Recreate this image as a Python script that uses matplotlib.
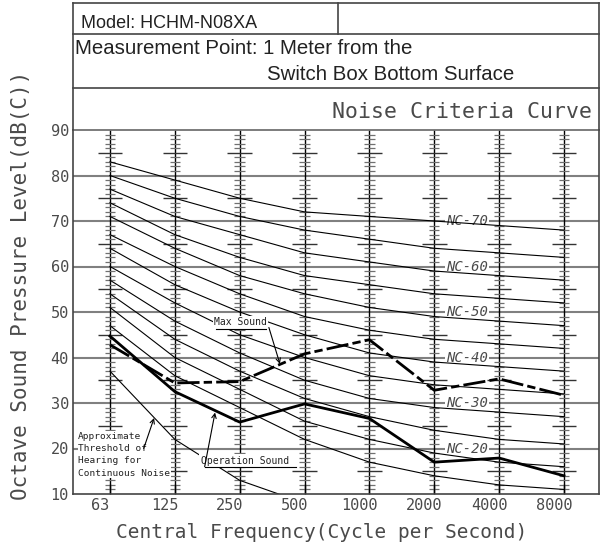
import matplotlib.pyplot as plt
import matplotlib.transforms as mtransforms
from matplotlib.lines import Line2D
import numpy as np

# frequency bands (octave centres)
freq_labels = ['63', '125', '250', '500', '1000', '2000', '4000', '8000']
band_x = np.arange(len(freq_labels))

# NC reference curves (dB per band)
nc_levels = [15, 20, 25, 30, 35, 40, 45, 50, 55, 60, 65, 70]
nc_values = [
    [47, 36, 29, 22, 17, 14, 12, 11],
    [51, 40, 33, 26, 22, 19, 17, 16],
    [54, 44, 37, 31, 27, 24, 22, 21],
    [57, 48, 41, 35, 31, 29, 28, 27],
    [60, 52, 45, 40, 36, 34, 33, 32],
    [64, 56, 50, 45, 41, 39, 38, 37],
    [67, 60, 54, 49, 46, 44, 43, 42],
    [71, 64, 58, 54, 51, 49, 48, 47],
    [74, 67, 62, 58, 56, 54, 53, 52],
    [77, 71, 67, 63, 61, 59, 58, 57],
    [80, 75, 71, 68, 66, 64, 63, 62],
    [83, 79, 75, 72, 71, 70, 69, 68],
]
nc_labelled = [20, 30, 40, 50, 60, 70]

# approximate threshold of hearing (first four bands)
threshold = [37, 22, 13, 8]

# measured data
max_sound = [42.8, 34.4, 34.7, 40.8, 43.9, 32.8, 35.3, 31.7]
operation_sound = [44.7, 32.5, 25.8, 29.8, 26.6, 17.0, 17.9, 14.0]

MONO = 'DejaVu Sans Mono'
TXT = '#4a4a4a'

W, H = 603, 559
fx = lambda px: px / W
fy = lambda py: 1 - py / H

fig = plt.figure(figsize=(W / 100, H / 100), dpi=100)
ax = fig.add_axes([fx(73), fy(494), (599 - 73) / W, (494 - 130) / H])
ax.set_xlim(-0.57, 7.54)
ax.set_ylim(10, 90)

# horizontal 10 dB lines
ax.hlines(np.arange(20, 90, 10), -0.57, 7.54, color='#808080', lw=1.5, zorder=1)

# band ladders
minor = [v for v in range(11, 90) if v % 10 != 0]
for i in band_x:
    ax.vlines(i, 10, 90, color='black', lw=1.0, zorder=1.5)
    short = [v for v in minor if v % 5 != 0]
    longer = [v for v in minor if v % 5 == 0]
    ax.hlines(short, i - 0.08, i + 0.08, color='#707070', lw=0.9, zorder=1.5)
    ax.hlines(longer, i - 0.19, i + 0.19, color='#333333', lw=1.0, zorder=1.5)

# NC curves
for lvl, vals in zip(nc_levels, nc_values):
    ax.plot(band_x, vals, color='black', lw=0.8, zorder=2.5)
for lvl in nc_labelled:
    ax.text(5.18, lvl - 0.9, f'NC-{lvl}', family=MONO, style='italic', fontsize=10,
            color=TXT, ha='left', va='baseline', zorder=2,
            bbox=dict(fc='white', ec='none', pad=0.8))

# threshold of hearing
ax.plot(band_x[:len(threshold)], threshold, color='black', lw=0.8, zorder=2.5)

# measured lines
ax.plot(band_x, operation_sound, color='black', lw=2.0, zorder=3)
ax.plot(band_x, max_sound, color='black', lw=2.0, zorder=3,
        linestyle=(0, (8, 1.5, 3, 1.5)))

# annotations
ann = dict(family=MONO, fontsize=7, color='#222222', zorder=5)
arrow = dict(arrowstyle='->', lw=0.8, color='black', shrinkA=0, shrinkB=0,
             mutation_scale=8)

ax.text(2.015, 47.7, 'Max Sound', ha='center', va='center',
        bbox=dict(fc='white', ec='none', pad=1), **ann)
ax.plot([1.63, 2.40], [46.3, 46.3], color='black', lw=0.8, zorder=5)
ax.annotate('', xy=(2.62, 38.6), xytext=(2.45, 46.6), arrowprops=arrow, zorder=5)

ax.text(2.08, 17.3, 'Operation Sound', ha='center', va='center',
        bbox=dict(fc='white', ec='none', pad=1.5), **ann)
ax.plot([1.46, 2.87], [16.0, 16.0], color='black', lw=0.8, zorder=5)
ax.annotate('', xy=(1.62, 27.9), xytext=(1.46, 16.0), arrowprops=arrow, zorder=5)

ax.text(-0.49, 18.6, 'Approximate\nThreshold of\nHearing for\nContinuous Noise',
        ha='left', va='center', linespacing=1.45, fontsize=6.8,
        family=MONO, color='#222222', zorder=2.2,
        bbox=dict(fc='white', ec='none', pad=0.5))
ax.annotate('', xy=(0.68, 26.7), xytext=(0.52, 20.0), arrowprops=arrow, zorder=5)

# axes styling
ax.set_xticks(band_x)
ax.set_xticklabels(freq_labels, family=MONO, fontsize=11, color=TXT)
ax.set_yticks(np.arange(10, 91, 10))
ax.set_yticklabels([str(v) for v in range(10, 91, 10)], family=MONO, fontsize=11, color=TXT)
ax.tick_params(axis='x', direction='in', length=7, width=1, pad=3, color='black')
ax.tick_params(axis='y', length=0, pad=3)
shift = mtransforms.ScaledTranslation(-0.1, 0, fig.dpi_scale_trans)
for lab in ax.get_xticklabels():
    lab.set_transform(lab.get_transform() + shift)
for sp in ax.spines.values():
    sp.set_color('#444444')
    sp.set_linewidth(1.2)
ax.spines['top'].set_color('#666666')

fig.text(fx(322), fy(533), 'Central Frequency(Cycle per Second)', family=MONO,
         fontsize=14, color=TXT, ha='center', va='center')
fig.text(fx(21), fy(500), 'Octave Sound Pressure Level(dB(C))', family=MONO,
         fontsize=15, color=TXT, rotation=90, rotation_mode='anchor',
         ha='left', va='center')

# header box
def fline(xs, ys, **kw):
    fig.add_artist(Line2D([fx(x) for x in xs], [fy(y) for y in ys],
                          transform=fig.transFigure, color='#444444', lw=1.2, **kw))

fline([73, 599], [3, 3])
fline([73, 73], [3, 130])
fline([599, 599], [3, 130])
fline([73, 599], [34, 34])
fline([73, 599], [88, 88])
fline([338, 338], [3, 34])

fig.text(fx(81), fy(28), 'Model: HCHM-N08XA', family='Liberation Sans', fontsize=13,
         color='#222222', va='baseline')
fig.text(fx(75), fy(54), 'Measurement Point: 1 Meter from the', family='Liberation Sans',
         fontsize=14.7, color='#222222', va='baseline')
fig.text(fx(267), fy(80), 'Switch Box Bottom Surface', family='Liberation Sans',
         fontsize=14.7, color='#222222', va='baseline')
fig.text(fx(592), fy(112), 'Noise Criteria Curve', family=MONO, fontsize=15.5,
         color=TXT, ha='right', va='center')

fig.savefig('out.png', dpi=100)
